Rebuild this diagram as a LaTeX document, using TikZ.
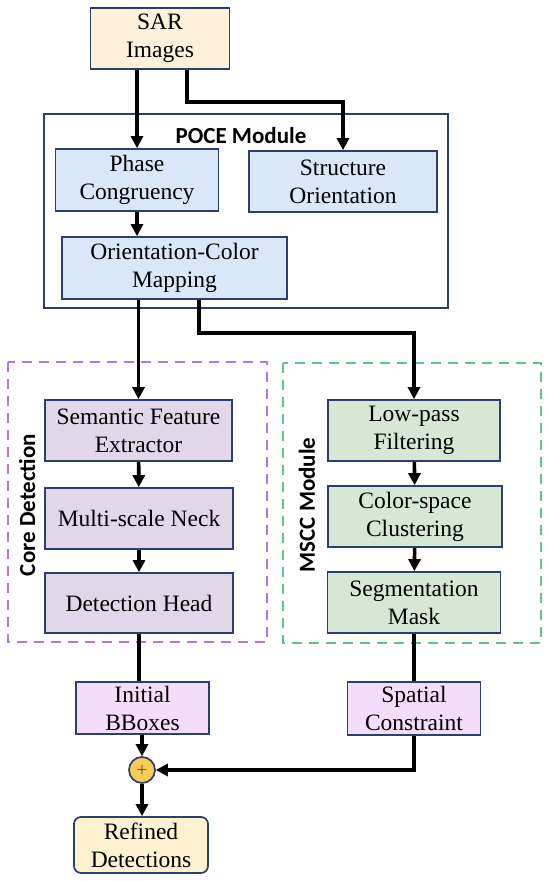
\documentclass[tikz,border=0pt]{standalone}
\usepackage{fontspec}
\setmainfont{Liberation Serif}
\newfontfamily\modfont{Carlito}
\usepackage{xcolor}
\usepackage{tikz}
\usetikzlibrary{
  arrows.meta,
  positioning,
  calc
}

\definecolor{edgeblue}{HTML}{2E3F6E}
\definecolor{sarfill}{HTML}{FDF1DA}
\definecolor{pocefill}{HTML}{DAE7F9}
\definecolor{corefill}{HTML}{E2D6E9}
\definecolor{msccfill}{HTML}{D6E8D4}
\definecolor{outfill}{HTML}{F3DDFA}
\definecolor{finalfill}{HTML}{FEF1CF}
\definecolor{plusfill}{HTML}{F7CB55}
\definecolor{corepurple}{HTML}{B377D4}
\definecolor{msccgreen}{HTML}{5CC68B}

\tikzset{
  block/.style={draw=edgeblue, line width=1.7pt, inner sep=0pt, align=center,
    font=\fontsize{23.5}{28}\selectfont},
  arr/.style={line width=3.6pt, -{Triangle[length=12pt,width=12pt]}},
  link/.style={line width=3.6pt},
  frame/.style={line width=2.2pt, dash pattern=on 10pt off 7pt},
  modlabel/.style={font=\modfont\bfseries\fontsize{23}{28}\selectfont}
}

\begin{document}
\begin{tikzpicture}[x=1pt,y=-1pt]
  \useasboundingbox (0,0) rectangle (550,881);

  % Module frames
  \draw[edgeblue, line width=1.7pt] (44,114) rectangle (448,308);
  \draw[frame, corepurple] (8,362) rectangle (267,642);
  \draw[frame, msccgreen] (283,363) rectangle (541,643);
  \node[modlabel] (poce) at (241,136) {POCE Module};
  \node[modlabel, rotate=90] (corelab) at (27,505) {Core Detection};
  \node[modlabel, rotate=90] (mscclab) at (307,505) {MSCC Module};

  % Input and POCE blocks
  \node[block, fill=sarfill, minimum width=139pt, minimum height=61pt] (sar) at (160,38.5) {SAR\\Images};
  \node[block, fill=pocefill, minimum width=163pt, minimum height=62pt] (phase) at (137,180) {Phase\\Congruency};
  \node[block, fill=pocefill, minimum width=188pt, minimum height=61pt] (struct) at (343,181.5) {Structure\\Orientation};
  \node[block, fill=pocefill, minimum width=225pt, minimum height=62pt] (ocm) at (174.5,268) {Orientation-Color\\Mapping};

  % Core detection blocks
  \node[block, fill=corefill, minimum width=187pt, minimum height=61pt] (sem) at (138.5,430.5) {Semantic Feature\\Extractor};
  \node[block, fill=corefill, minimum width=188pt, minimum height=61pt] (neck) at (139,518.5) {Multi-scale Neck};
  \node[block, fill=corefill, minimum width=188pt, minimum height=60pt] (head) at (139,603) {Detection Head};

  % MSCC blocks
  \node[block, fill=msccfill, minimum width=172pt, minimum height=61pt] (lowpass) at (414,430.5) {Low-pass\\Filtering};
  \node[block, fill=msccfill, minimum width=174pt, minimum height=61pt] (cluster) at (415,516.5) {Color-space\\Clustering};
  \node[block, fill=msccfill, minimum width=173pt, minimum height=61pt] (segmask) at (414,602.5) {Segmentation\\Mask};

  % Fusion
  \node[block, fill=outfill, minimum width=133pt, minimum height=52pt] (initbox) at (142.5,708) {Initial\\BBoxes};
  \node[block, fill=outfill, minimum width=133pt, minimum height=53pt] (spatial) at (414,708.5) {Spatial\\Constraint};
  \node[circle, draw=edgeblue, line width=1.7pt, fill=plusfill, minimum size=26pt, inner sep=0pt,
    font=\fontsize{14}{14}\selectfont] (plus) at (142,770) {$+$};
  \node[block, fill=finalfill, rounded corners=7pt, minimum width=134pt, minimum height=56pt] (refined) at (141,845) {Refined\\Detections};

  % Connectors
  \coordinate (sarbend) at (343,102);
  \coordinate (ocmbend) at (414,333);
  \draw[arr] (phase.north |- sar.south) -- (phase.north);
  \draw[arr] ([xshift=27pt]sar.south) |- (sarbend) -- (struct.north);
  \draw[arr] (phase.south) -- (phase.south |- ocm.north);
  \draw[arr] (sem.north |- ocm.south) -- (sem.north);
  \draw[arr] ([xshift=24.5pt]ocm.south) |- (ocmbend) -- (lowpass.north);
  \draw[arr] (sem) -- (neck);
  \draw[arr] (neck) -- (head);
  \draw[arr] (lowpass) -- (cluster);
  \draw[arr] (cluster) -- (segmask);
  \draw[link] (head.south) -- (head.south |- initbox.north);
  \draw[link] (segmask.south) -- (segmask.south |- spatial.north);
  \draw[arr] (initbox.south -| plus.north) -- (plus.north);
  \draw[arr] (spatial.south) |- (plus.east);
  \draw[arr] (plus.south) -- (refined.north -| plus.south);
\end{tikzpicture}
\end{document}
